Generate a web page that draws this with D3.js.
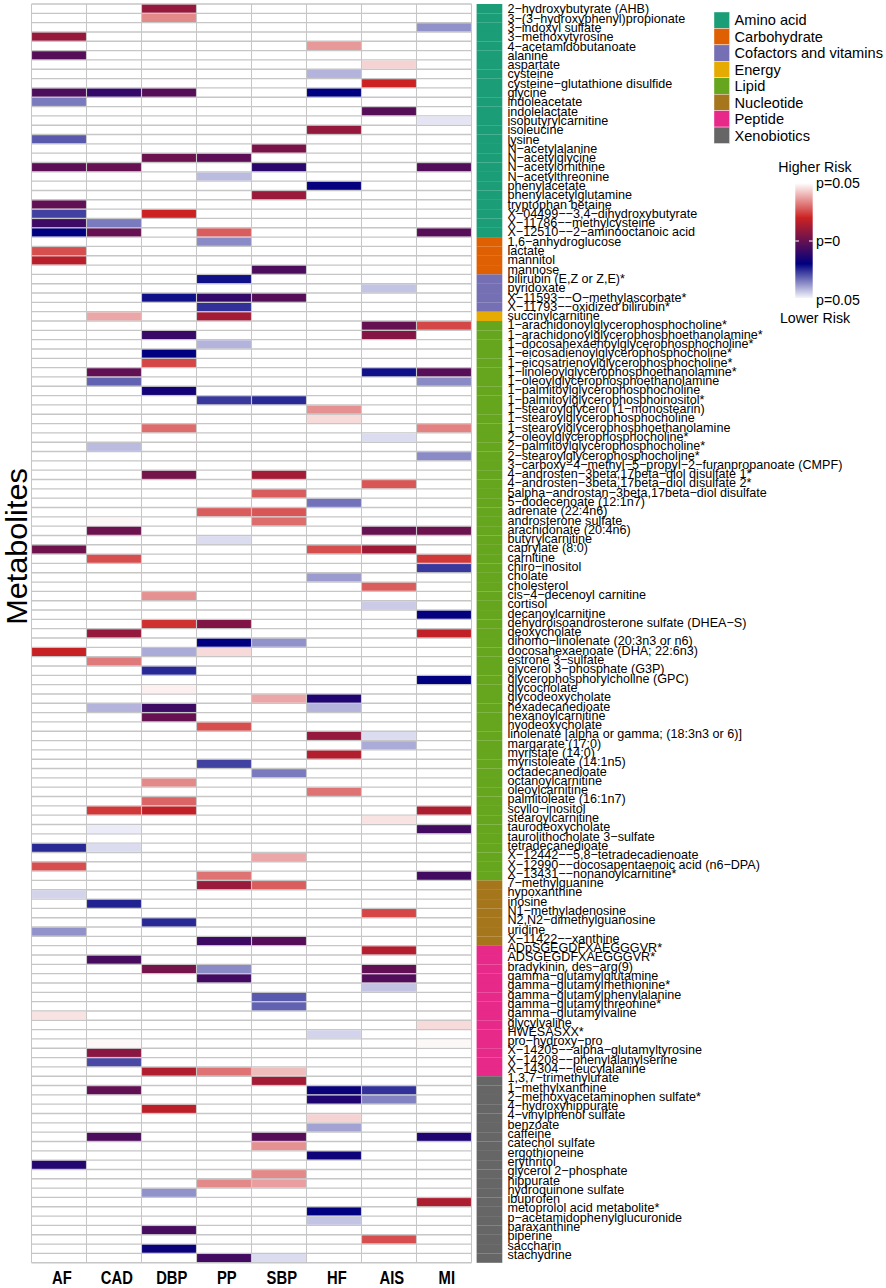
<!DOCTYPE html>
<html><head><meta charset="utf-8">
<script src="https://cdn.jsdelivr.net/npm/d3@7"></script>
<style>html,body{margin:0;padding:0;background:#fff}svg{display:block}text{font-family:"Liberation Sans",Arial,sans-serif;fill:#000}</style>
</head><body><div id="chart"></div>
<script>
const diseases = ["AF","CAD","DBP","PP","SBP","HF","AIS","MI"];
const classes = ["Amino acid","Carbohydrate","Cofactors and vitamins","Energy","Lipid","Nucleotide","Peptide","Xenobiotics"];
const classColors = ["#1b9e77","#df6002","#7570b3","#e6ab02","#66a61e","#a6761d","#e7298a","#666666"];
const aminoAcid = ["2-hydroxybutyrate (AHB)","3-(3-hydroxyphenyl)propionate","3-indoxyl sulfate","3-methoxytyrosine","4-acetamidobutanoate","alanine","aspartate","cysteine","cysteine-glutathione disulfide","glycine","indoleacetate","indolelactate","isobutyrylcarnitine","isoleucine","lysine","N-acetylalanine","N-acetylglycine","N-acetylornithine","N-acetylthreonine","phenylacetate","phenylacetylglutamine","tryptophan betaine","X-04499--3,4-dihydroxybutyrate","X-11786--methylcysteine","X-12510--2-aminooctanoic acid"];
const carbohydrate = ["1,6-anhydroglucose","lactate","mannitol","mannose"];
const cofactors = ["bilirubin (E,Z or Z,E)*","pyridoxate","X-11593--O-methylascorbate*","X-11793--oxidized bilirubin*"];
const energy = ["succinylcarnitine"];
const lipid = ["1-arachidonoylglycerophosphocholine*","1-arachidonoylglycerophosphoethanolamine*","1-docosahexaenoylglycerophosphocholine*","1-eicosadienoylglycerophosphocholine*","1-eicosatrienoylglycerophosphocholine*","1-linoleoylglycerophosphoethanolamine*","1-oleoylglycerophosphoethanolamine","1-palmitoylglycerophosphocholine","1-palmitoylglycerophosphoinositol*","1-stearoylglycerol (1-monostearin)","1-stearoylglycerophosphocholine","1-stearoylglycerophosphoethanolamine","2-oleoylglycerophosphocholine*","2-palmitoylglycerophosphocholine*","2-stearoylglycerophosphocholine*","3-carboxy-4-methyl-5-propyl-2-furanpropanoate (CMPF)","4-androsten-3beta,17beta-diol disulfate 1*","4-androsten-3beta,17beta-diol disulfate 2*","5alpha-androstan-3beta,17beta-diol disulfate","5-dodecenoate (12:1n7)","adrenate (22:4n6)","androsterone sulfate","arachidonate (20:4n6)","butyrylcarnitine","caprylate (8:0)","carnitine","chiro-inositol","cholate","cholesterol","cis-4-decenoyl carnitine","cortisol","decanoylcarnitine","dehydroisoandrosterone sulfate (DHEA-S)","deoxycholate","dihomo-linolenate (20:3n3 or n6)","docosahexaenoate (DHA; 22:6n3)","estrone 3-sulfate","glycerol 3-phosphate (G3P)","glycerophosphorylcholine (GPC)","glycocholate","glycodeoxycholate","hexadecanedioate","hexanoylcarnitine","hyodeoxycholate","linolenate [alpha or gamma; (18:3n3 or 6)]","margarate (17:0)","myristate (14:0)","myristoleate (14:1n5)","octadecanedioate","octanoylcarnitine","oleoylcarnitine","palmitoleate (16:1n7)","scyllo-inositol","stearoylcarnitine","taurodeoxycholate","taurolithocholate 3-sulfate","tetradecanedioate","X-12442--5,8-tetradecadienoate","X-12990--docosapentaenoic acid (n6-DPA)","X-13431--nonanoylcarnitine*"];
const nucleotide = ["7-methylguanine","hypoxanthine","inosine","N1-methyladenosine","N2,N2-dimethylguanosine","uridine","X-11422--xanthine"];
const peptide = ["ADpSGEGDFXAEGGGVR*","ADSGEGDFXAEGGGVR*","bradykinin, des-arg(9)","gamma-glutamylglutamine","gamma-glutamylmethionine*","gamma-glutamylphenylalanine","gamma-glutamylthreonine*","gamma-glutamylvaline","glycylvaline","HWESASXX*","pro-hydroxy-pro","X-14205--alpha-glutamyltyrosine","X-14208--phenylalanylserine","X-14304--leucylalanine"];
const xenobiotics = ["1,3,7-trimethylurate","1-methylxanthine","2-methoxyacetaminophen sulfate*","4-hydroxyhippurate","4-vinylphenol sulfate","benzoate","caffeine","catechol sulfate","ergothioneine","erythritol","glycerol 2-phosphate","hippurate","hydroquinone sulfate","ibuprofen","metoprolol acid metabolite*","p-acetamidophenylglucuronide","paraxanthine","piperine","saccharin","stachydrine"];
const groups = [aminoAcid,carbohydrate,cofactors,energy,lipid,nucleotide,peptide,xenobiotics];

// signed p-values per disease: [metabolite number, value] (negative = lower risk)
const AF  = [[3,.0095],[5,-.003],[9,-.005],[10,-.035],[14,-.031],[17,-.002],[21,-.001],[22,-.028],[23,-.008],[24,-.02],[26,.026],[27,.016],[58,.002],[69,.019],[90,-.025],[92,.026],[95,-.046],[99,-.038],[108,.046],[124,-.013]];
const CAD = [[9,-.01],[17,0],[23,-.035],[24,0],[33,.038],[39,-.001],[40,-.032],[47,-.043],[55,.049],[56,.001],[59,.026],[67,.009],[70,.032],[75,-.042],[86,.023],[88,-.049],[90,-.047],[96,-.024],[102,-.006],[111,.049],[112,.007],[113,-.029],[116,-.001],[121,-.005]];
const DBP = [[0,.009],[1,.034],[9,-.003],[16,.001],[22,.02],[31,-.022],[35,-.009],[37,-.02],[38,.025],[41,-.016],[45,.03],[50,.003],[63,.035],[66,.022],[69,-.041],[71,-.025],[73,.048],[75,-.008],[76,0],[83,.034],[85,.029],[86,.018],[98,-.025],[103,.003],[114,.015],[118,.017],[127,-.038],[131,-.006],[133,-.018]];
const PP  = [[16,-.002],[18,-.043],[24,.028],[25,-.037],[29,-.022],[31,-.01],[32,-.026],[33,.012],[36,-.042],[42,-.027],[54,.028],[57,-.047],[66,.005],[68,-.02],[69,.045],[77,.026],[81,-.028],[93,.031],[94,.01],[100,-.008],[103,-.037],[104,-.007],[114,.031],[126,.034],[134,-.007]];
const SBP = [[15,.004],[17,-.012],[20,.01],[28,-.005],[31,-.003],[42,-.025],[50,.012],[52,.028],[54,.027],[55,.03],[68,-.038],[74,.038],[82,-.035],[91,.038],[94,.028],[100,-.003],[106,-.031],[107,-.032],[114,.041],[115,.012],[121,-.003],[122,.035],[125,.034],[126,.037],[134,-.047]];
const HF  = [[4,.036],[7,-.042],[9,-.02],[13,.009],[19,-.019],[43,.035],[44,.045],[53,-.034],[58,.026],[61,-.039],[74,-.014],[75,-.042],[78,.009],[80,.015],[84,.031],[110,-.046],[116,-.018],[117,-.014],[119,.044],[120,-.04],[123,-.017],[129,-.02],[130,-.044]];
const AIS = [[6,.044],[8,.02],[11,-.003],[30,-.044],[34,0],[35,.006],[39,-.022],[46,-.047],[51,.027],[56,0],[58,.011],[62,.028],[64,-.045],[78,-.047],[79,-.041],[87,.046],[97,.025],[101,.015],[103,-.001],[104,-.004],[105,-.044],[116,-.026],[117,-.036],[132,.026]];
const MI  = [[2,-.038],[12,-.048],[17,-.004],[24,-.003],[34,.025],[39,-.003],[40,-.037],[45,.033],[48,-.037],[56,.001],[59,.023],[60,-.027],[65,-.019],[67,.018],[72,-.02],[86,.014],[88,-.007],[93,-.007],[109,.045],[111,.049],[121,-.014],[128,.014]];
const seriesList = [AF,CAD,DBP,PP,SBP,HF,AIS,MI];

const W = 886, H = 1288;
const metabolites = groups.flat();
const svg = d3.select("#chart").append("svg").attr("width",W).attr("height",H);

const x = d3.scaleBand().domain(diseases).range([31.5,471.5]);
const y = d3.scaleBand().domain(metabolites).range([4,1262.7]);
const yLabel = d3.scaleBand().domain(metabolites).range([4.2,1259]);
const color = d3.scaleLinear().domain([-.05,-.02,.02,.05])
  .range(["#f4f4fc","#000080","#cc2222","#ffffff"]).clamp(true);
const classColor = d3.scaleOrdinal().domain(classes).range(classColors);
const gridColor = "#c6c6c6";

// grid lines
const grid = svg.append("g").attr("stroke",gridColor);
grid.selectAll("line.h").data(metabolites.concat([null])).join("line").attr("class","h")
  .attr("x1",x.range()[0]).attr("x2",x.range()[1])
  .attr("y1",m=>m===null?y.range()[1]:y(m)).attr("y2",m=>m===null?y.range()[1]:y(m))
  .attr("stroke-width",1.35);
grid.selectAll("line.v").data(diseases.concat([null])).join("line").attr("class","v")
  .attr("y1",y.range()[0]).attr("y2",y.range()[1])
  .attr("x1",d=>d===null?x.range()[1]:x(d)).attr("x2",d=>d===null?x.range()[1]:x(d))
  .attr("stroke-width",1.05);

// significant cells
const filled = seriesList.flatMap((s,i)=>s.map(([k,v])=>({d:diseases[i],m:metabolites[k],v})));
svg.append("g").selectAll("rect").data(filled).join("rect")
  .attr("x",c=>x(c.d)+.55).attr("y",c=>y(c.m)+.65)
  .attr("width",x.bandwidth()-1.1).attr("height",y.bandwidth()-1.3)
  .attr("fill",c=>color(c.v));

// class strip
const rowClass = groups.flatMap((g,i)=>g.map(m=>({m,c:classes[i]})));
svg.append("g").selectAll("rect").data(rowClass).join("rect")
  .attr("x",476.6).attr("width",25.7).attr("y",r=>y(r.m)).attr("height",y.bandwidth()+.1)
  .attr("fill",r=>classColor(r.c));

// metabolite labels (hyphens print as minus signs in the reference)
const yAxis = svg.append("g").attr("transform","translate(507.4,0)")
  .call(d3.axisRight(yLabel).tickSize(0).tickPadding(0).tickFormat(s=>s.replace(/-/g,"\u2212")));
yAxis.select(".domain").remove();
yAxis.selectAll("text")
  .attr("x",0).attr("dy",".36em")
  .style("font-family",'"Liberation Sans"').style("font-size","12.6px").attr("fill","#000");

// disease labels
const xAxis = svg.append("g").attr("transform","translate(2.8,1284)")
  .call(d3.axisBottom(x).tickSize(0).tickPadding(0));
xAxis.select(".domain").remove();
xAxis.selectAll(".tick text")
  .attr("y",0).attr("dy",0)
  .attr("transform","scale(.84,1)")
  .style("font-family",'"Liberation Sans"').style("font-size","17.6px").style("font-weight","bold").attr("fill","#000");

// y title
svg.append("text").attr("transform","translate(27.4,546.5) rotate(-90) scale(1.02,1)")
  .attr("text-anchor","middle").attr("font-size",30).text("Metabolites");

// class legend
const ly = d3.scaleBand().domain(classes).range([12,143.5]);
const lg = svg.append("g");
lg.selectAll("rect").data(classes).join("rect")
  .attr("x",714).attr("width",15.6).attr("y",c=>ly(c)).attr("height",ly.bandwidth())
  .attr("fill",c=>classColor(c)).attr("stroke","#fff").attr("stroke-width",.4);
lg.selectAll("text").data(classes).join("text")
  .attr("x",734.5).attr("y",c=>ly(c)+ly.bandwidth()/2).attr("dy",".36em")
  .attr("font-size",14.6).text(c=>c);

// colour bar
const barY = d3.scaleLinear().domain([.05,0,-.05]).range([183,241,298]);
const defs = svg.append("defs");
const grad = defs.append("linearGradient").attr("id","riskBar").attr("x1",0).attr("x2",0).attr("y1",0).attr("y2",1);
[.05,.02,-.02,-.05].forEach(v=>grad.append("stop").attr("offset",(barY(v)-183)/(298-183)).attr("stop-color",color(v)));
svg.append("rect").attr("x",795.3).attr("width",17.4).attr("y",183).attr("height",115).attr("fill","url(#riskBar)");
svg.append("g").selectAll("line").data([795.3,809]).join("line")
  .attr("x1",d=>d).attr("x2",d=>d+3.7).attr("y1",barY(0)).attr("y2",barY(0)).attr("stroke","#fff").attr("stroke-width",1);
const riskTexts = [["Higher Risk",815,172,"middle"],["p=0.05",816,188,"start"],["p=0",816,246,"start"],["p=0.05",816,305,"start"],["Lower Risk",815,323,"middle"]];
svg.append("g").selectAll("text").data(riskTexts).join("text")
  .attr("x",d=>d[1]).attr("y",d=>d[2]).attr("text-anchor",d=>d[3]).attr("font-size",14.2).text(d=>d[0]);
</script></body></html>
